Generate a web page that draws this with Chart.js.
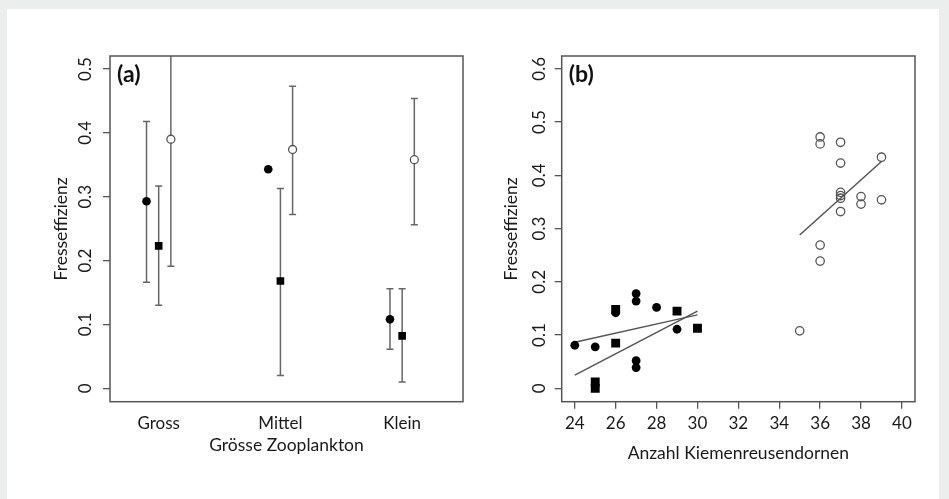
<!DOCTYPE html>
<html><head><meta charset="utf-8">
<script src="https://cdn.jsdelivr.net/npm/chart.js@4"></script>
<style>
html,body{margin:0;padding:0;background:#eceeed;width:949px;height:499px;overflow:hidden;}
#card{position:absolute;left:7px;top:9px;width:932px;height:490px;background:#fff;}
#ca{position:absolute;left:0;top:0;}
#cb{position:absolute;left:474px;top:0;}
</style></head><body>
<div id="card"></div>
<canvas id="ca" width="474" height="499" style="width:474px;height:499px"></canvas>
<canvas id="cb" width="475" height="499" style="width:475px;height:499px"></canvas>
<script>
// ---------- Panel (a) data ----------
const groups = ['Gross', 'Mittel', 'Klein'];
const filledMean = [0.293, 0.343, 0.108];
const filledLow  = [0.166, null, 0.061];
const filledHigh = [0.418, null, 0.156];
const squareMean = [0.223, 0.168, 0.082];
const squareLow  = [0.130, 0.020, 0.010];
const squareHigh = [0.317, 0.313, 0.156];
const openMean   = [0.390, 0.374, 0.358];
const openLow    = [0.191, 0.272, 0.256];
const openHigh   = [0.600, 0.473, 0.454];
const groupOffsets = [-0.1, 0, 0.1];
const yTicksA  = [0, 0.1, 0.2, 0.3, 0.4, 0.5];
const yLabelsA = ['0', '0.1', '0.2', '0.3', '0.4', '0.5'];

// ---------- Panel (b) data ----------
const filledX = [24, 25, 26, 27, 27, 27, 27, 28, 29];
const filledY = [0.081, 0.078, 0.142, 0.178, 0.164, 0.052, 0.039, 0.152, 0.111];
const squareX = [25, 25, 26, 26, 29, 30];
const squareY = [0.012, 0.000, 0.148, 0.085, 0.145, 0.113];
const openX   = [35, 36, 36, 36, 36, 37, 37, 37, 37, 37, 37, 38, 38, 39, 39];
const openY   = [0.108, 0.239, 0.269, 0.472, 0.459, 0.462, 0.423, 0.368, 0.362, 0.357, 0.332, 0.360, 0.346, 0.434, 0.354];
const fitFilledX = [24, 30], fitFilledY = [0.0865, 0.138];
const fitSquareX = [24, 30], fitSquareY = [0.025, 0.145];
const fitOpenX   = [35, 39], fitOpenY   = [0.288, 0.426];
const xTicksB  = [24, 26, 28, 30, 32, 34, 36, 38, 40];
const xLabelsB = ['24', '26', '28', '30', '32', '34', '36', '38', '40'];
const yTicksB  = [0, 0.1, 0.2, 0.3, 0.4, 0.5, 0.6];
const yLabelsB = ['0', '0.1', '0.2', '0.3', '0.4', '0.5', '0.6'];

const FONT = "Lato, 'Open Sans', sans-serif";
const TXT = '#1a1a1a';
const AXC = '#555';
Chart.defaults.font.family = FONT;
Chart.defaults.color = TXT;

function pts(xs, ys) { return xs.map((x, i) => ({x: x, y: ys[i]})); }
function groupPts(means, off) { return means.map((m, i) => ({x: i + 1 + off, y: m})); }

const framePlugin = {
  id: 'frame',
  beforeDatasetsDraw(chart) {
    const {ctx, chartArea: a, scales} = chart;
    ctx.save();
    ctx.beginPath();
    ctx.rect(a.left, a.top, a.right - a.left, a.bottom - a.top);
    ctx.clip();
    ctx.strokeStyle = '#666';
    ctx.lineWidth = 1.5;
    chart.data.datasets.forEach(ds => {
      if (!ds.errLow) return;
      ds.data.forEach((p, i) => {
        const lo = ds.errLow[i], hi = ds.errHigh[i];
        if (lo == null || hi == null) return;
        const x = scales.x.getPixelForValue(p.x);
        const y1 = scales.y.getPixelForValue(lo), y2 = scales.y.getPixelForValue(hi);
        ctx.beginPath();
        ctx.moveTo(x, y1); ctx.lineTo(x, y2);
        ctx.moveTo(x - 3.5, y1); ctx.lineTo(x + 3.5, y1);
        ctx.moveTo(x - 3.5, y2); ctx.lineTo(x + 3.5, y2);
        ctx.stroke();
      });
    });
    ctx.restore();
  },
  afterDraw(chart, args, opts) {
    const {ctx, chartArea: a} = chart;
    ctx.save();
    ctx.strokeStyle = AXC;
    ctx.lineWidth = 1.5;
    ctx.strokeRect(a.left, a.top, a.right - a.left, a.bottom - a.top);
    ctx.fillStyle = '#111';
    ctx.font = 'bold 23px ' + FONT;
    ctx.textBaseline = 'middle';
    ctx.textAlign = 'left';
    ctx.fillText(opts.text, a.left + 7, a.top + 19);
    ctx.restore();
  }
};

function baseOptions(cfg) {
  return {
    responsive: false, animation: false, events: [],
    layout: {padding: {top: 56, right: cfg.padRight, left: 0, bottom: 0}},
    plugins: {legend: {display: false}, tooltip: {enabled: false}, frame: {text: cfg.panel}},
    scales: {
      x: {
        type: 'linear', min: cfg.xmin, max: cfg.xmax,
        afterBuildTicks: s => { s.ticks = cfg.xTicks.map(v => ({value: v})); },
        afterFit: s => { s.height = 97.3; },
        ticks: {autoSkip: false, maxRotation: 0, padding: 4.5, font: {size: 17}, color: TXT,
                callback: (v, i) => cfg.xLabels[i]},
        grid: {drawOnChartArea: false, drawTicks: true, tickLength: 7, color: cfg.xTickColor, lineWidth: 1.3},
        border: {display: false},
        title: {display: true, text: cfg.xTitle, font: {size: 17.5}, color: TXT, padding: {top: 0, bottom: cfg.xTitlePad}}
      },
      y: {
        type: 'linear', min: cfg.ymin, max: cfg.ymax,
        afterBuildTicks: s => { s.ticks = cfg.yTicks.map(v => ({value: v})); },
        afterFit: s => { s.width = cfg.yWidth; },
        ticks: {autoSkip: false, minRotation: 90, maxRotation: 90, crossAlign: 'center', padding: cfg.yTickPad,
                font: {size: 17}, color: TXT, callback: (v, i) => cfg.yLabels[i]},
        grid: {drawOnChartArea: false, drawTicks: true, tickLength: 7, color: AXC, lineWidth: 1.3},
        border: {display: false},
        title: {display: true, text: 'Fresseffizienz', font: {size: 17.5}, color: TXT, padding: {top: cfg.yTitlePad, bottom: 0}}
      }
    }
  };
}

new Chart(document.getElementById('ca'), {
  type: 'scatter',
  data: {datasets: [
    {data: groupPts(filledMean, groupOffsets[0]), errLow: filledLow, errHigh: filledHigh,
     pointStyle: 'circle', pointRadius: 4.3, backgroundColor: '#000', borderColor: '#000', borderWidth: 0},
    {data: groupPts(squareMean, groupOffsets[1]), errLow: squareLow, errHigh: squareHigh,
     pointStyle: 'rect', pointRadius: 5.4, backgroundColor: '#000', borderColor: '#000', borderWidth: 0},
    {data: groupPts(openMean, groupOffsets[2]), errLow: openLow, errHigh: openHigh,
     pointStyle: 'circle', pointRadius: 4, backgroundColor: '#fff', borderColor: '#555', borderWidth: 1.3}
  ]},
  options: baseOptions({panel: '(a)', padRight: 11, xmin: 0.6, xmax: 3.5, xTicks: [1, 2, 3], xLabels: groups,
    xTickColor: 'rgba(0,0,0,0)', xTitle: 'Grösse Zooplankton', xTitlePad: 43.5,
    ymin: -0.021, ymax: 0.5204, yTicks: yTicksA, yLabels: yLabelsA, yWidth: 110, yTickPad: 5.5, yTitlePad: 51.2}),
  plugins: [framePlugin]
});

new Chart(document.getElementById('cb'), {
  type: 'scatter',
  data: {datasets: [
    {data: pts(filledX, filledY), pointStyle: 'circle', pointRadius: 4.4, backgroundColor: '#000', borderColor: '#000', borderWidth: 0},
    {data: pts(squareX, squareY), pointStyle: 'rect', pointRadius: 6.3, backgroundColor: '#000', borderColor: '#000', borderWidth: 0},
    {data: pts(openX, openY), pointStyle: 'circle', pointRadius: 4.2, backgroundColor: 'rgba(0,0,0,0)', borderColor: '#555', borderWidth: 1.3},
    {data: pts(fitFilledX, fitFilledY), showLine: true, pointRadius: 0, borderColor: '#555', borderWidth: 1.5},
    {data: pts(fitSquareX, fitSquareY), showLine: true, pointRadius: 0, borderColor: '#555', borderWidth: 1.5},
    {data: pts(fitOpenX, fitOpenY), showLine: true, pointRadius: 0, borderColor: '#555', borderWidth: 1.5}
  ]},
  options: baseOptions({panel: '(b)', padRight: 34, xmin: 23.36, xmax: 40.64, xTicks: xTicksB, xLabels: xLabelsB,
    xTickColor: AXC, xTitle: 'Anzahl Kiemenreusendornen', xTitlePad: 35.5,
    ymin: -0.025, ymax: 0.624, yTicks: yTicksB, yLabels: yLabelsB, yWidth: 87.7, yTickPad: 3.7, yTitlePad: 27.2}),
  plugins: [framePlugin]
});
</script>
</body></html>
